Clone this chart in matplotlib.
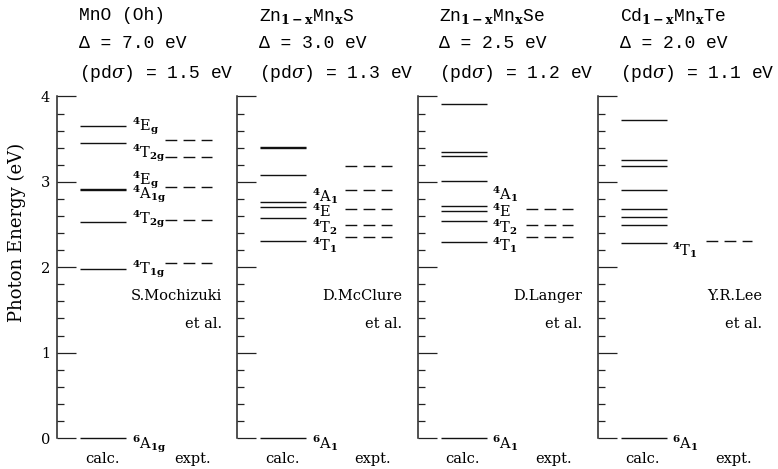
import matplotlib
matplotlib.use('Agg')
import matplotlib.pyplot as plt
from matplotlib.ticker import MultipleLocator

plt.rcParams['mathtext.fontset'] = 'custom'
plt.rcParams['mathtext.rm'] = 'DejaVu Serif'
plt.rcParams['mathtext.it'] = 'DejaVu Serif:italic'
plt.rcParams['mathtext.bf'] = 'DejaVu Serif:bold'

# заголовки панелей
COMPOUNDS = ['MnO (Oh)',
             r'Zn$_{\mathbf{1-x}}$Mn$_{\mathbf{x}}$S',
             r'Zn$_{\mathbf{1-x}}$Mn$_{\mathbf{x}}$Se',
             r'Cd$_{\mathbf{1-x}}$Mn$_{\mathbf{x}}$Te']
DELTA = ['7.0', '3.0', '2.5', '2.0']
PD_SIGMA = ['1.5', '1.3', '1.2', '1.1']
AUTHORS = ['S.Mochizuki', 'D.McClure', 'D.Langer', 'Y.R.Lee']

# уровни энергии (эВ): расчёт и эксперимент
CALC = [
    [0.0, 1.98, 2.53, 2.91, 2.92, 3.46, 3.65],
    [0.0, 2.31, 2.58, 2.70, 2.76, 3.08, 3.40, 3.41],
    [0.0, 2.30, 2.54, 2.66, 2.72, 3.01, 3.30, 3.35, 3.91],
    [0.0, 2.28, 2.49, 2.59, 2.68, 2.91, 3.19, 3.26, 3.73],
]
EXPT = [
    [2.05, 2.55, 2.94, 3.29, 3.49],
    [2.35, 2.49, 2.68, 2.90, 3.19],
    [2.35, 2.49, 2.68],
    [2.31],
]

# термы и высота базовой линии подписи
TERMS = [
    [('6', 'A', '1g'), ('4', 'T', '1g'), ('4', 'T', '2g'), ('4', 'A', '1g'),
     ('4', 'E', 'g'), ('4', 'T', '2g'), ('4', 'E', 'g')],
    [('6', 'A', '1'), ('4', 'T', '1'), ('4', 'T', '2'), ('4', 'E', ''), ('4', 'A', '1')],
    [('6', 'A', '1'), ('4', 'T', '1'), ('4', 'T', '2'), ('4', 'E', ''), ('4', 'A', '1')],
    [('6', 'A', '1'), ('4', 'T', '1')],
]
TERM_Y = [
    [-0.12, 1.93, 2.51, 2.80, 2.97, 3.28, 3.60],
    [-0.12, 2.20, 2.41, 2.59, 2.77],
    [-0.12, 2.19, 2.41, 2.59, 2.79],
    [-0.12, 2.14],
]

W, H = 778, 469
AXIS_X = [57, 237, 417.5, 597.5]
Y0, Y4 = 438, 96.5
SERIF = 'DejaVu Serif'
MONO = 'Liberation Mono'


def term_text(sup, letter, sub):
    s = r'$^{\mathbf{%s}}$%s' % (sup, letter)
    if sub:
        s += r'$_{\mathbf{%s}}$' % sub
    return s


def main():
    fig = plt.figure(figsize=(W / 100, H / 100), dpi=100)

    for i in range(4):
        left = AXIS_X[i] / W
        ax = fig.add_axes([left, (H - Y0) / H, 180 / W, (Y0 - Y4) / H])
        ax.set_xlim(0, 180)
        ax.set_ylim(0, 4)
        for side in ['top', 'right', 'bottom']:
            ax.spines[side].set_visible(False)
        ax.spines['left'].set_linewidth(1.1)
        ax.spines['left'].set_color('#222222')
        ax.yaxis.set_major_locator(MultipleLocator(1))
        ax.yaxis.set_minor_locator(MultipleLocator(0.2))
        ax.tick_params(axis='y', which='major', direction='in', length=13.5, width=0.9,
                       color='#222222', pad=5, labelsize=10.5, labelleft=(i == 0))
        ax.tick_params(axis='y', which='minor', direction='in', length=4.8, width=0.9,
                       color='#222222')
        ax.set_xticks([])
        for lbl in ax.get_yticklabels():
            lbl.set_fontfamily(SERIF)

        for e in CALC[i]:
            ax.plot([23, 69], [e, e], color='#111111', lw=1.0, solid_capstyle='butt',
                    clip_on=False)
        for e in EXPT[i]:
            ax.plot([108, 155], [e, e], color='#111111', lw=1.0, dashes=(8.5, 4.5),
                    clip_on=False)

        for (sup, letter, sub), y in zip(TERMS[i], TERM_Y[i]):
            ax.text(75, y, term_text(sup, letter, sub), fontsize=10.5, family=SERIF,
                    ha='left', va='baseline', clip_on=False)

        ax.text(165, 1.66, AUTHORS[i], fontsize=10.5, family=SERIF, ha='right', va='center')
        ax.text(165, 1.33, 'et al.', fontsize=10.5, family=SERIF, ha='right', va='center')

        fig.text((AXIS_X[i] + 45) / W, 1 - 459 / H, 'calc.', fontsize=10.5, family=SERIF,
                 ha='center', va='center')
        fig.text((AXIS_X[i] + 136) / W, 1 - 459 / H, 'expt.', fontsize=10.5, family=SERIF,
                 ha='center', va='center')

        tx = (AXIS_X[i] + 22) / W
        fig.text(tx, 1 - 16 / H, COMPOUNDS[i], fontsize=13, family=MONO, ha='left', va='center')
        fig.text(tx, 1 - 44 / H, '\u0394 = %s eV' % DELTA[i], fontsize=13, family=MONO,
                 ha='left', va='center')
        fig.text(tx, 1 - 73 / H, r'(pd$\sigma$) = %s eV' % PD_SIGMA[i], fontsize=13,
                 family=MONO, ha='left', va='center')

    fig.text(17 / W, 1 - 232 / H, 'Photon Energy (eV)', fontsize=13, family=SERIF,
             rotation=90, ha='center', va='center')

    fig.savefig('out.png', dpi=100)


if __name__ == '__main__':
    main()
